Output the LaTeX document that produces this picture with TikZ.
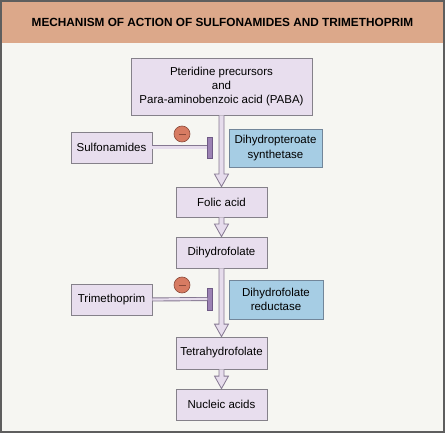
\documentclass[tikz,border=0pt]{standalone}
\usepackage{fontspec}
\setmainfont{Liberation Sans}
\usetikzlibrary{calc}
\definecolor{bgc}{HTML}{F6F6F2}
\definecolor{headc}{HTML}{DCA88A}
\definecolor{lavc}{HTML}{E8DEEE}
\definecolor{boxl}{HTML}{85818A}
\definecolor{bluec}{HTML}{A6CDE4}
\definecolor{bluel}{HTML}{72869A}
\definecolor{arrl}{HTML}{857891}
\definecolor{arrfill}{HTML}{E6DCEC}
\definecolor{barc}{HTML}{9C82B4}
\definecolor{barl}{HTML}{6F5A86}
\definecolor{circc}{HTML}{D77B62}
\definecolor{circl}{HTML}{8B4A3A}
\definecolor{bordc}{HTML}{5E5E5E}
\newcommand\fatarr[2]{\path[draw=arrl,fill=arrfill,line width=0.8pt,line join=miter] let \p1=(#1.south), \p2=(#2.north) in (\x1-2.5pt,\y1) -- (\x1-2.5pt,\y2+12.5pt) -- (\x1-7pt,\y2+12.5pt) -- (\x1,\y2) -- (\x1+7pt,\y2+12.5pt) -- (\x1+2.5pt,\y2+12.5pt) -- (\x1+2.5pt,\y1);}
\begin{document}
\begin{tikzpicture}[x=1pt,y=-1pt,
  lbox/.style={draw=boxl,fill=lavc,line width=0.8pt,inner sep=0pt,align=center,font=\fontsize{11.5}{13.7}\selectfont},
  bbox/.style={draw=bluel,fill=bluec,line width=0.8pt,inner sep=0pt,align=center,font=\fontsize{11.5}{14.5}\selectfont},
  inhbar/.style={draw=barl,fill=barc,line width=0.5pt,inner sep=0pt,minimum width=5pt},
  minus/.style={circle,draw=circl,fill=circc,line width=0.6pt,inner sep=0pt,minimum size=16pt},
  inh/.style={draw=arrl,line width=0.9pt,double=arrfill,double distance=2.2pt}]
\useasboundingbox (0,0) rectangle (445,433);
\fill[bgc] (0,0) rectangle (445,433);
\fill[headc] (0,0) rectangle (445,43);
\node[font=\bfseries\fontsize{11.8}{13}\selectfont] (title) at (222.5,22.5) {MECHANISM OF ACTION OF SULFONAMIDES AND TRIMETHOPRIM};
\node[lbox,minimum width=181pt,minimum height=57pt] (top) at (221.5,86.5) {Pteridine precursors\\and\\Para-aminobenzoic acid (PABA)};
\node[lbox,minimum width=91pt,minimum height=30pt] (fol) at (221.5,202) {Folic acid};
\node[lbox,minimum width=91pt,minimum height=31pt] (dhf) at (221.5,252.5) {Dihydrofolate};
\node[lbox,minimum width=91pt,minimum height=32pt] (thf) at (221.5,353) {Tetrahydrofolate};
\node[lbox,minimum width=91pt,minimum height=31pt] (nuc) at (221.5,404.5) {Nucleic acids};
\fatarr{top}{fol}
\fatarr{fol}{dhf}
\fatarr{dhf}{thf}
\fatarr{thf}{nuc}
\node[lbox,minimum width=81pt,minimum height=31pt] (sulf) at (111.5,147.5) {Sulfonamides};
\node[lbox,minimum width=81pt,minimum height=31pt] (tri) at (111.5,299.5) {Trimethoprim};
\node[bbox,minimum width=93pt,minimum height=38pt] (dps) at (275.5,148) {Dihydropteroate\\synthetase};
\node[bbox,minimum width=94pt,minimum height=39pt] (dhfr) at (276,299.5) {Dihydrofolate\\reductase};
\node[inhbar,minimum height=21pt] (bar1) at (210.2,147.5) {};
\node[inhbar,minimum height=22pt] (bar2) at (210.2,299) {};
\draw[inh] (sulf.east) -- (bar1.west);
\draw[inh] (tri.east) -- (bar2.west);
\node[minus] (m1) at (182,134) {};
\node[minus] (m2) at (182,285) {};
\draw[circl,line width=0.9pt] ($(m1.center)+(-3.5,0)$) -- ($(m1.center)+(3.5,0)$);
\draw[circl,line width=0.9pt] ($(m2.center)+(-3.5,0)$) -- ($(m2.center)+(3.5,0)$);
\draw[bordc,line width=1.6pt] (0.8,0.8) rectangle (444.2,432.2);
\end{tikzpicture}
\end{document}
